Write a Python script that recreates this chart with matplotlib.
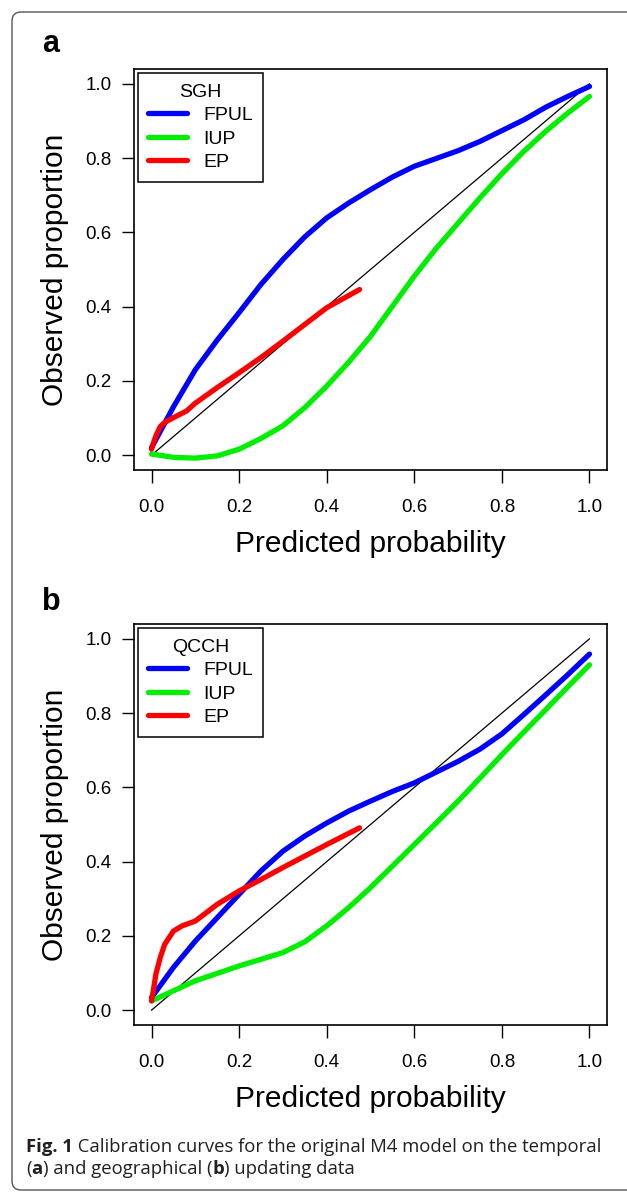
import matplotlib
matplotlib.use("Agg")
import matplotlib.pyplot as plt
from matplotlib.patches import FancyBboxPatch
from matplotlib.text import Annotation
from matplotlib.transforms import IdentityTransform

plt.rcParams["font.family"] = ["Liberation Sans", "DejaVu Sans"]

W, H = 627, 1192

# --- data ------------------------------------------------------------------
ticks = [0.0, 0.2, 0.4, 0.6, 0.8, 1.0]
tick_labels = ["0.0", "0.2", "0.4", "0.6", "0.8", "1.0"]
series_names = ["FPUL", "IUP", "EP"]
series_colors = ["#0000ff", "#00ee00", "#ff0000"]

# panel a (SGH)
a_fpul_x = [0.0, 0.025, 0.05, 0.1, 0.15, 0.2, 0.25, 0.3, 0.35, 0.4, 0.45, 0.5,
            0.55, 0.6, 0.65, 0.7, 0.75, 0.8, 0.85, 0.9, 0.95, 1.0]
a_fpul_y = [0.02, 0.075, 0.13, 0.23, 0.31, 0.384, 0.46, 0.527, 0.588, 0.639, 0.679, 0.715,
            0.749, 0.778, 0.799, 0.82, 0.845, 0.874, 0.903, 0.937, 0.966, 0.993]
a_iup_x = [0.0, 0.05, 0.1, 0.15, 0.2, 0.25, 0.3, 0.35, 0.4, 0.45, 0.5, 0.55, 0.6,
           0.65, 0.7, 0.75, 0.8, 0.85, 0.9, 0.95, 1.0]
a_iup_y = [0.003, -0.006, -0.008, -0.002, 0.016, 0.045, 0.079, 0.128, 0.186, 0.25, 0.32,
           0.401, 0.482, 0.557, 0.625, 0.693, 0.758, 0.818, 0.872, 0.921, 0.966]
a_ep_x = [0.0, 0.005, 0.01, 0.02, 0.03, 0.05, 0.08, 0.1, 0.15, 0.2, 0.25, 0.3, 0.35, 0.4, 0.475]
a_ep_y = [0.016, 0.035, 0.052, 0.077, 0.088, 0.101, 0.119, 0.140, 0.182, 0.222, 0.263,
          0.307, 0.352, 0.397, 0.446]

# panel b (QCCH)
b_fpul_x = [0.0, 0.05, 0.1, 0.15, 0.2, 0.25, 0.3, 0.35, 0.4, 0.45, 0.5, 0.55, 0.6,
            0.65, 0.7, 0.75, 0.8, 0.85, 0.9, 0.95, 1.0]
b_fpul_y = [0.034, 0.115, 0.186, 0.249, 0.312, 0.375, 0.428, 0.469, 0.504, 0.536, 0.563,
            0.589, 0.612, 0.641, 0.67, 0.703, 0.744, 0.796, 0.849, 0.903, 0.959]
b_iup_x = [0.0, 0.05, 0.1, 0.15, 0.2, 0.25, 0.3, 0.35, 0.4, 0.45, 0.5, 0.55, 0.6,
           0.65, 0.7, 0.75, 0.8, 0.85, 0.9, 0.95, 1.0]
b_iup_y = [0.025, 0.052, 0.079, 0.099, 0.119, 0.137, 0.155, 0.184, 0.227, 0.276, 0.33,
           0.388, 0.446, 0.504, 0.563, 0.625, 0.688, 0.749, 0.809, 0.87, 0.93]
b_ep_x = [0.0, 0.005, 0.01, 0.02, 0.03, 0.05, 0.07, 0.1, 0.12, 0.15, 0.2, 0.25, 0.3,
          0.35, 0.4, 0.475]
b_ep_y = [0.025, 0.06, 0.097, 0.142, 0.177, 0.213, 0.227, 0.24, 0.258, 0.285, 0.321,
          0.352, 0.384, 0.415, 0.446, 0.491]

panels = [
    ("a", "SGH", [(a_fpul_x, a_fpul_y), (a_iup_x, a_iup_y), (a_ep_x, a_ep_y)]),
    ("b", "QCCH", [(b_fpul_x, b_fpul_y), (b_iup_x, b_iup_y), (b_ep_x, b_ep_y)]),
]


def px_rect(left, top, right, bottom):
    return [left / W, 1 - bottom / H, (right - left) / W, (bottom - top) / H]


fig = plt.figure(figsize=(W / 100, H / 100), dpi=100)

# rounded frame around the whole figure (pixel coordinates, origin bottom-left)
frame = FancyBboxPatch((12, 2), 640, 1178,
                       boxstyle="round,pad=0,rounding_size=9",
                       transform=IdentityTransform(), fill=False,
                       edgecolor="#555555", linewidth=1.0, clip_on=False)
fig.patches.append(frame)

boxes = [px_rect(134, 69, 607, 470), px_rect(134, 624, 607, 1025)]
letter_y = [44, 602]

for (letter, site, curves), box, ly in zip(panels, boxes, letter_y):
    ax = fig.add_axes(box)
    ax.plot([0, 1], [0, 1], color="black", linewidth=0.9, zorder=2)
    for (xs, ys), name, col in zip(curves, series_names, series_colors):
        ax.plot(xs, ys, color=col, linewidth=3.8, solid_capstyle="round",
                solid_joinstyle="round", label=name, zorder=3)
    ax.set_xlim(-0.04, 1.04)
    ax.set_ylim(-0.04, 1.04)
    ax.set_xticks(ticks)
    ax.set_xticklabels(tick_labels)
    ax.set_yticks(ticks)
    ax.set_yticklabels(tick_labels)
    ax.tick_params(direction="out", length=9, width=1.0, labelsize=13.5,
                   color="black")
    ax.tick_params(axis="x", pad=12)
    ax.tick_params(axis="y", pad=7)
    for sp in ax.spines.values():
        sp.set_linewidth(1.2)
    ax.set_xlabel("Predicted probability", fontsize=21.5, labelpad=10)
    ax.set_ylabel("Observed proportion", fontsize=21.5, labelpad=12)

    leg = ax.legend(title=site, loc="upper left", bbox_to_anchor=(0.008, 0.99),
                    fontsize=14, title_fontsize=14, frameon=True, fancybox=False,
                    edgecolor="black", handlelength=2.0, handletextpad=0.8,
                    labelspacing=0.3, borderpad=0.55, borderaxespad=0)
    leg.get_frame().set_linewidth(1.1)
    leg.get_frame().set_facecolor("white")
    leg.get_frame().set_alpha(1)

    fig.text(42 / W, 1 - ly / H, letter, fontsize=22, fontweight="bold",
             ha="left", va="center")

# caption with mixed bold pieces, each piece placed after the previous one
cap_font = ["Open Sans", "DejaVu Sans"]
cap_size = 13.3
cap_color = "#231f20"


def caption(pieces, x_px, baseline_px):
    prev = None
    for text, bold in pieces:
        weight = "bold" if bold else "normal"
        if prev is None:
            prev = fig.text(x_px / W, 1 - baseline_px / H, text, fontsize=cap_size,
                            family=cap_font, fontweight=weight,
                            ha="left", va="baseline", color=cap_color)
        else:
            prev = fig.add_artist(Annotation(
                text, xy=(1, 0), xycoords=prev, fontsize=cap_size,
                family=cap_font, fontweight=weight, ha="left", va="bottom",
                color=cap_color))


caption([("Fig. 1", True),
         (" Calibration curves for the original M4 model on the temporal", False)],
        26, 1152)
caption([("(", False), ("a", True), (") and geographical (", False),
         ("b", True), (") updating data", False)], 26, 1174)

fig.savefig("out.png", dpi=100)
